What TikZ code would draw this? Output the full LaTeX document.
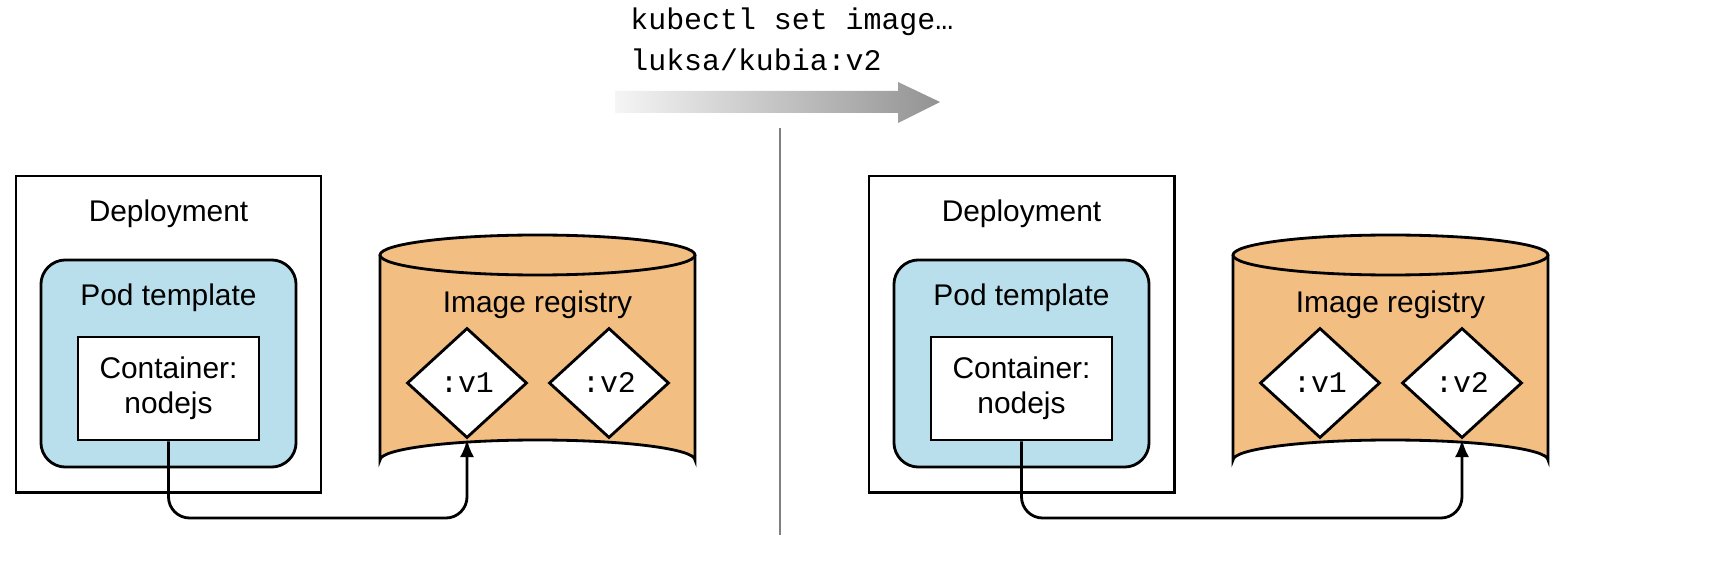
\documentclass[tikz,border=0pt]{standalone}
\usepackage{fontspec}
\setmainfont{Liberation Sans}
\newfontfamily\monofont{Liberation Mono}
\usetikzlibrary{shapes,arrows.meta,positioning,calc}
\definecolor{podblue}{HTML}{B9DFEC}
\definecolor{regorange}{HTML}{F2BE82}
\begin{document}
\begin{tikzpicture}[
    x=0.01cm, y=-0.01cm,
    every node/.style={font=\fontsize{8.5}{10}\selectfont},
    deploy/.style={rectangle, draw, thick, minimum width=3.05cm, minimum height=3.16cm},
    podtpl/.style={rectangle, draw, thick, fill=podblue, rounded corners=7pt, minimum width=2.55cm, minimum height=2.07cm},
    cont/.style={rectangle, draw, thick, fill=white, minimum width=1.81cm, minimum height=1.03cm, align=center},
    tag/.style={diamond, draw, thick, fill=white, minimum width=1.2cm, minimum height=1.1cm, inner sep=0pt, font=\monofont\fontsize{8.5}{10}\selectfont},
    cyl/.style={draw, thick, fill=regorange},
    arrow/.style={thick, -{Latex[length=5pt,width=4pt]}, rounded corners=6pt},
    label/.style={anchor=center}
]
\useasboundingbox (0,0) rectangle (1718,588);

% Command and gradient arrow
\node[anchor=west, font=\monofont\fontsize{8.5}{10}\selectfont] (cmd1) at (618,22) {kubectl set image…};
\node[anchor=west, font=\monofont\fontsize{8.5}{10}\selectfont] (cmd2) at (618,60) {luksa/kubia:v2};
\shade[left color=gray!8, right color=gray!85] (615,91) -- (898,91) -- (898,82) -- (940,102) -- (898,123) -- (898,113) -- (615,113) -- cycle;

% Separator
\draw[gray, thick] (780,128) -- (780,535);

% Left: deployment
\node[deploy] (depL) at (168.5,334) {};
\node[label] at (168.5,214) {Deployment};
\node[podtpl] (podL) at (168.5,363.5) {};
\node[label] at (168.5,298) {Pod template};
\node[cont] (contL) at (168.5,388.5) {Container:\\nodejs};

% Left: registry
\draw[cyl] (380,255) -- (380,460) arc[start angle=180, end angle=360, x radius=157.5, y radius=20] -- (695,255);
\draw[cyl] (537.5,255) ellipse[x radius=157.5, y radius=20];
\node[label] (regL) at (537.5,305) {Image registry};
\node[tag] (v1L) at (467,383) {:v1};
\node[tag] (v2L) at (609,383) {:v2};

\coordinate (turnL) at (467,518);
\draw[arrow] (contL.south) |- (turnL) -- (v1L.south);

% Right: deployment
\node[deploy] (depR) at (1021.5,334) {};
\node[label] at (1021.5,214) {Deployment};
\node[podtpl] (podR) at (1021.5,363.5) {};
\node[label] at (1021.5,298) {Pod template};
\node[cont] (contR) at (1021.5,388.5) {Container:\\nodejs};

% Right: registry
\draw[cyl] (1233,255) -- (1233,460) arc[start angle=180, end angle=360, x radius=157.5, y radius=20] -- (1548,255);
\draw[cyl] (1390.5,255) ellipse[x radius=157.5, y radius=20];
\node[label] (regR) at (1390.5,305) {Image registry};
\node[tag] (v1R) at (1320,383) {:v1};
\node[tag] (v2R) at (1462,383) {:v2};

\coordinate (turnR) at (1462,518);
\draw[arrow] (contR.south) |- (turnR) -- (v2R.south);

\end{tikzpicture}
\end{document}
